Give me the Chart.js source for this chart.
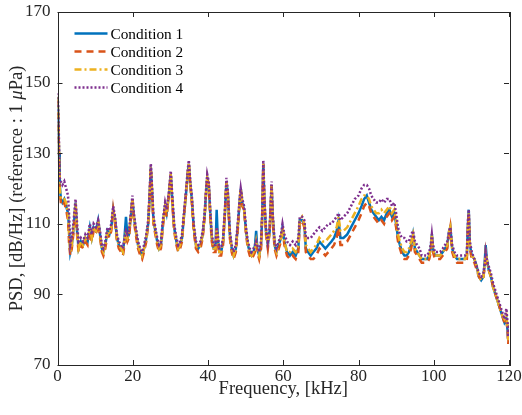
<!DOCTYPE html>
<html>
<head>
<meta charset="utf-8">
<script src="https://cdn.jsdelivr.net/npm/chart.js@4"></script>
<style>
  html, body { margin: 0; padding: 0; background: #fff; }
  canvas { display: block; }
</style>
</head>
<body>
<canvas id="psd" width="522" height="415"></canvas>
<script>
// frequency axis, kHz
const freq = [
  0, 0.2, 0.4, 0.6, 0.9, 1.3, 1.8, 2.3, 2.8, 3.1,
  3.4, 3.8, 4.3, 4.8, 5.2, 5.6, 6.2, 6.8, 7.4, 8.0,
  8.6, 9.1, 9.6, 10.2, 10.8, 11.3, 11.8, 12.2, 12.7, 13.3,
  13.8, 14.3, 14.8, 15.3, 15.8, 16.3, 16.9, 17.4, 17.8, 18.2,
  18.6, 19.0, 19.5, 19.9, 20.3, 20.8, 21.4, 22.0, 22.5, 23.0,
  23.6, 24.1, 24.5, 24.8, 25.1, 25.5, 26.0, 26.5, 27.0, 27.5,
  28.0, 28.6, 29.0, 29.6, 30.1, 30.5, 31.0, 31.6, 32.1, 32.6,
  33.1, 33.6, 34.2, 34.6, 34.9, 35.3, 35.7, 36.2, 36.8, 37.4,
  38.0, 38.6, 39.1, 39.5, 39.8, 40.2, 40.6, 41.0, 41.5, 42.0,
  42.3, 42.6, 43.0, 43.5, 44.0, 44.5, 44.9, 45.3, 45.8, 46.3,
  46.8, 47.4, 47.9, 48.4, 48.7, 49.1, 49.6, 50.1, 50.6, 51.1,
  51.6, 52.1, 52.5, 52.8, 53.1, 53.6, 54.1, 54.4, 54.7, 55.0,
  55.4, 55.9, 56.4, 56.9, 57.2, 57.7, 58.2, 58.8, 59.4, 59.8,
  60.3, 61.0, 61.8, 62.5, 63.3, 64.0, 64.4, 65.0, 65.6, 66.0,
  66.6, 67.3, 68.0, 68.8, 69.6, 70.4, 71.2, 72.0, 72.8, 73.5,
  74.2, 74.7, 75.2, 76.0, 77.0, 78.0, 79.0, 80.0, 80.8, 81.5,
  82.2, 82.8, 83.4, 84.0, 84.7, 85.4, 86.1, 86.8, 87.5, 88.2,
  88.9, 89.5, 90.0, 90.5, 91.0, 91.6, 92.2, 92.8, 93.4, 94.0,
  94.5, 95.0, 95.6, 96.2, 96.8, 97.5, 98.2, 98.8, 99.2, 99.5,
  99.8, 100.3, 101.0, 101.7, 102.4, 103.0, 103.6, 104.1, 104.4, 104.9,
  105.5, 106.2, 106.9, 107.6, 108.3, 108.8, 109.1, 109.3, 109.6, 110.1,
  110.8, 111.4, 112.0, 112.6, 113.2, 113.6, 113.8, 114.1, 114.6, 115.2,
  115.8, 116.4, 117.0, 117.6, 118.2, 118.8, 119.3, 119.6, 119.8, 120.0
];

// PSD values, dB/Hz re 1 uPa
const cond1 = [
  146, 140, 130, 121, 117, 116, 117, 115, 113, 108,
  102, 104, 109, 116, 108, 103, 105, 104, 106, 105,
  109, 106, 109, 108, 111, 107, 103, 102, 104, 108,
  107, 109, 114, 111, 106, 104, 103, 102, 106, 112,
  106, 107, 112, 117, 112, 108, 104, 102, 101, 103,
  106, 110, 118, 126, 120, 111, 108, 105, 103, 104,
  110, 115, 113, 118, 124, 117, 109, 105, 103, 104,
  106, 112, 119, 124, 127, 121, 117, 109, 104, 103,
  104, 107, 112, 119, 123, 121, 113, 106, 103, 103,
  114, 106, 102, 102, 105, 113, 122, 118, 107, 103,
  101, 103, 109, 116, 120, 116, 114, 108, 104, 102,
  101, 102, 104, 108, 103, 101, 104, 112, 127, 116,
  108, 104, 108, 121, 112, 104, 102, 104, 106, 109,
  105, 102, 101, 102, 101, 103, 111, 111, 110, 103,
  102, 101, 102, 103, 105, 104, 103, 104, 105, 106,
  108, 111, 106, 106, 107, 109, 111, 113, 115, 117,
  118, 116, 114, 113, 112, 111, 112, 111, 113, 114,
  112, 113, 110, 106, 104, 102, 101, 101, 102, 104,
  107, 103, 102, 101, 100, 100, 100, 101, 103, 107,
  103, 101, 101, 101, 102, 103, 104, 108, 109, 103,
  101, 100, 100, 100, 100, 101, 110, 114, 104, 101,
  100, 98, 95, 94, 95, 100, 104, 100, 97, 95,
  92, 90, 88, 86, 84, 82, 83, 80, 77, 80
];
const cond2 = [
  145, 139, 129, 119, 116, 115, 116, 114, 111, 104,
  101, 103, 108, 115, 107, 102, 104, 103, 105, 104,
  108, 105, 108, 107, 110, 106, 102, 101, 103, 107,
  106, 108, 114, 110, 105, 103, 102, 101, 104, 107,
  105, 106, 112, 117, 111, 107, 103, 101, 100, 102,
  105, 110, 118, 126, 119, 110, 107, 104, 102, 103,
  109, 115, 112, 118, 124, 116, 108, 104, 102, 103,
  105, 112, 119, 124, 127, 121, 116, 108, 103, 102,
  103, 106, 112, 119, 123, 121, 112, 105, 102, 102,
  108, 105, 101, 101, 104, 113, 122, 117, 106, 102,
  100, 102, 108, 116, 120, 115, 114, 107, 103, 101,
  100, 101, 102, 104, 102, 100, 103, 112, 127, 115,
  107, 103, 108, 121, 111, 103, 101, 103, 105, 109,
  104, 101, 100, 101, 100, 102, 110, 111, 109, 102,
  101, 100, 100, 101, 103, 102, 101, 102, 103, 104,
  106, 109, 104, 104, 105, 107, 109, 111, 113, 115,
  116, 115, 113, 112, 111, 110, 111, 110, 112, 113,
  111, 112, 109, 105, 103, 101, 100, 100, 101, 103,
  106, 102, 101, 100, 99, 99, 99, 100, 102, 106,
  102, 100, 100, 100, 101, 102, 103, 107, 109, 102,
  100, 99, 99, 99, 99, 100, 109, 113, 103, 100,
  99, 97, 95, 94, 95, 98, 101, 99, 97, 95,
  92, 90, 88, 86, 84, 82, 83, 80, 76, 79
];
const cond3 = [
  146, 141, 131, 120, 117, 117, 117, 116, 113, 106,
  102, 104, 109, 116, 108, 103, 105, 104, 106, 105,
  109, 106, 109, 108, 111, 107, 103, 102, 104, 108,
  107, 109, 114, 111, 106, 104, 103, 102, 105, 108,
  106, 107, 112, 117, 112, 108, 104, 102, 101, 103,
  106, 110, 118, 126, 120, 111, 108, 105, 103, 104,
  110, 115, 113, 118, 124, 117, 109, 105, 103, 104,
  106, 112, 119, 124, 127, 121, 117, 109, 104, 103,
  104, 107, 112, 119, 123, 121, 113, 106, 103, 103,
  109, 106, 102, 102, 105, 113, 122, 118, 107, 103,
  101, 103, 109, 116, 120, 116, 114, 108, 104, 102,
  101, 102, 103, 105, 103, 101, 104, 112, 127, 116,
  108, 104, 108, 121, 112, 104, 102, 104, 106, 109,
  105, 102, 102, 103, 102, 104, 111, 112, 110, 104,
  103, 102, 103, 104, 106, 105, 105, 106, 107, 108,
  109, 112, 108, 108, 109, 111, 113, 115, 117, 118,
  118, 117, 115, 114, 113, 113, 114, 113, 114, 115,
  113, 114, 111, 107, 105, 103, 102, 102, 103, 105,
  107, 103, 102, 101, 100, 100, 100, 101, 103, 107,
  103, 101, 101, 101, 102, 103, 104, 108, 109, 103,
  101, 100, 100, 100, 100, 101, 109, 113, 104, 101,
  100, 98, 95, 94, 95, 99, 102, 100, 97, 95,
  92, 90, 88, 86, 84, 83, 84, 81, 77, 80
];
const cond4 = [
  147, 143, 133, 123, 122, 121, 122, 120, 118, 112,
  104, 106, 111, 117, 110, 105, 106, 105, 107, 106,
  110, 107, 110, 109, 111, 108, 104, 103, 105, 109,
  108, 110, 115, 112, 107, 105, 104, 103, 106, 108,
  107, 108, 113, 118, 113, 109, 105, 103, 102, 104,
  107, 111, 119, 127, 121, 112, 109, 106, 104, 105,
  111, 116, 114, 119, 125, 118, 110, 106, 104, 105,
  107, 113, 120, 125, 128, 122, 118, 110, 105, 104,
  105, 108, 113, 120, 124, 122, 114, 107, 104, 104,
  109, 107, 103, 103, 106, 114, 123, 119, 108, 104,
  102, 104, 110, 117, 120, 117, 115, 109, 105, 103,
  102, 103, 104, 105, 104, 102, 105, 113, 128, 117,
  109, 105, 109, 122, 113, 105, 103, 105, 107, 110,
  107, 105, 104, 105, 104, 106, 112, 112, 111, 106,
  106, 106, 107, 108, 109, 108, 109, 110, 110, 111,
  112, 113, 111, 112, 113, 115, 117, 118, 120, 121,
  121, 120, 118, 117, 116, 116, 117, 116, 117, 117,
  115, 116, 113, 109, 107, 106, 106, 105, 105, 107,
  108, 105, 104, 103, 101, 101, 101, 102, 104, 107,
  104, 102, 102, 102, 103, 104, 105, 108, 109, 104,
  102, 101, 101, 101, 101, 102, 111, 114, 105, 102,
  100, 98, 96, 95, 96, 99, 102, 100, 98, 96,
  93, 91, 89, 87, 85, 83, 86, 82, 78, 82
];

const seriesNames = ['Condition 1', 'Condition 2', 'Condition 3', 'Condition 4'];
const seriesValues = [cond1, cond2, cond3, cond4];
const seriesColors = ['#0072BD', '#D95319', '#EDB120', '#7E2F8E'];
const seriesDash = [[], [7, 5], [7, 3, 2, 3], [2, 2]];

const xTicks = [0, 20, 40, 60, 80, 100, 120];
const yTicks = [70, 90, 110, 130, 150, 170];

const FONT = '"Liberation Serif", "Times New Roman", serif';
const INK = '#262626';

// MATLAB-like box, inward ticks, axis titles and legend
const matlabBox = {
  id: 'matlabBox',
  afterDatasetsDraw(chart) {
    const ctx = chart.ctx;
    const a = chart.chartArea;
    const xs = chart.scales.x, ys = chart.scales.y;
    ctx.save();
    ctx.strokeStyle = INK;
    ctx.lineWidth = 1;
    ctx.setLineDash([]);
    ctx.strokeRect(Math.round(a.left) + 0.5, Math.round(a.top) + 0.5,
      Math.round(a.right - a.left), Math.round(a.bottom - a.top));
    const tl = 5;
    ctx.beginPath();
    xTicks.forEach(v => {
      const px = Math.round(xs.getPixelForValue(v)) + 0.5;
      ctx.moveTo(px, a.bottom); ctx.lineTo(px, a.bottom - tl);
      ctx.moveTo(px, a.top); ctx.lineTo(px, a.top + tl);
    });
    yTicks.forEach(v => {
      const py = Math.round(ys.getPixelForValue(v)) + 0.5;
      ctx.moveTo(a.left, py); ctx.lineTo(a.left + tl, py);
      ctx.moveTo(a.right, py); ctx.lineTo(a.right - tl, py);
    });
    ctx.stroke();

    // x title
    ctx.fillStyle = INK;
    ctx.font = '18.5px ' + FONT;
    ctx.textAlign = 'center';
    ctx.textBaseline = 'middle';
    ctx.fillText('Frequency, [kHz]', (a.left + a.right) / 2, 389);

    // y title with italic mu
    const parts = [
      ['PSD, [dB/Hz] (reference : 1 ', 'normal'],
      ['\u03BC', 'italic'],
      ['Pa)', 'normal']
    ];
    let total = 0;
    const widths = parts.map(p => {
      ctx.font = (p[1] === 'italic' ? 'italic ' : '') + '18.5px ' + FONT;
      const w = ctx.measureText(p[0]).width;
      total += w;
      return w;
    });
    ctx.translate(17, (a.top + a.bottom) / 2);
    ctx.rotate(-Math.PI / 2);
    ctx.textAlign = 'left';
    let x0 = -total / 2;
    parts.forEach((p, i) => {
      ctx.font = (p[1] === 'italic' ? 'italic ' : '') + '18.5px ' + FONT;
      ctx.fillText(p[0], x0, 0);
      x0 += widths[i];
    });
    ctx.restore();

    // legend
    ctx.save();
    ctx.font = '15.3px ' + FONT;
    ctx.textBaseline = 'middle';
    ctx.textAlign = 'left';
    seriesNames.forEach((name, i) => {
      const y = a.top + 21.5 + i * 18;
      ctx.strokeStyle = seriesColors[i];
      ctx.lineWidth = 2.5;
      ctx.setLineDash(seriesDash[i]);
      ctx.beginPath();
      ctx.moveTo(a.left + 17, y);
      ctx.lineTo(a.left + 50, y);
      ctx.stroke();
      ctx.fillStyle = '#000';
      ctx.fillText(name, a.left + 53, y + 1);
    });
    ctx.restore();
  }
};

new Chart(document.getElementById('psd').getContext('2d'), {
  type: 'line',
  data: {
    labels: freq,
    datasets: seriesNames.map((name, i) => ({
      label: name,
      data: freq.map((f, k) => ({ x: f, y: seriesValues[i][k] })),
      borderColor: seriesColors[i],
      borderWidth: 2.5,
      borderDash: seriesDash[i],
      pointRadius: 0,
      tension: 0,
      fill: false,
      order: 4 - i
    }))
  },
  options: {
    responsive: false,
    animation: false,
    events: [],
    layout: { padding: { top: 12, right: 13, left: 0, bottom: 0 } },
    scales: {
      x: {
        type: 'linear', min: 0, max: 120,
        afterBuildTicks: s => { s.ticks = xTicks.map(v => ({ value: v })); },
        afterFit: s => { s.height = 50; s.paddingLeft = 0; s.paddingRight = 0; },
        grid: { display: false, drawTicks: false },
        border: { display: false },
        ticks: { padding: 1, maxRotation: 0, color: INK, font: { family: FONT, size: 17 } }
      },
      y: {
        type: 'linear', min: 70, max: 170,
        afterBuildTicks: s => { s.ticks = yTicks.map(v => ({ value: v })); },
        afterFit: s => { s.width = 57.5; s.paddingTop = 0; s.paddingBottom = 0; },
        grid: { display: false, drawTicks: false },
        border: { display: false },
        ticks: { padding: 7, color: INK, font: { family: FONT, size: 17 } }
      }
    },
    plugins: { legend: { display: false }, tooltip: { enabled: false } }
  },
  plugins: [matlabBox]
});
</script>
</body>
</html>
